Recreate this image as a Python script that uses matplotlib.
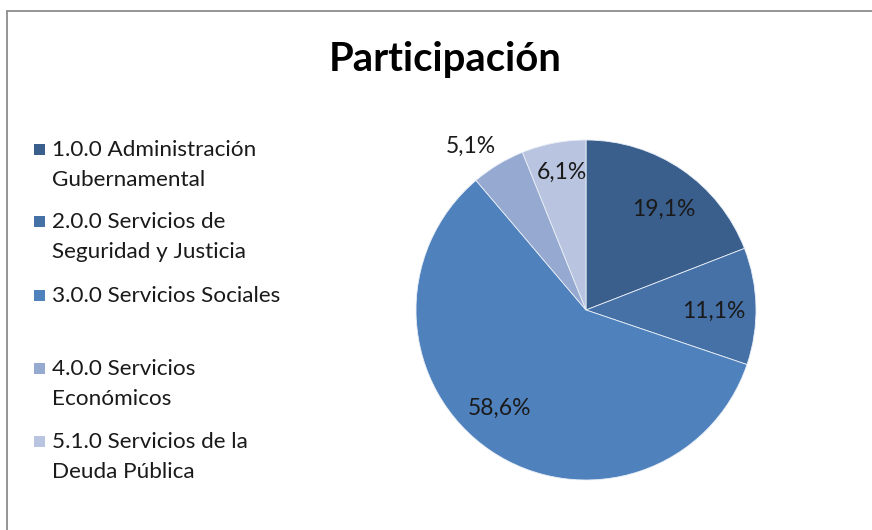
import matplotlib
matplotlib.use("Agg")
import matplotlib.pyplot as plt
from matplotlib.patches import Rectangle

plt.rcParams['font.family'] = ['Lato', 'DejaVu Sans']

title = "Participación"
categories = ["1.0.0 Administración\nGubernamental",
              "2.0.0 Servicios de\nSeguridad y Justicia",
              "3.0.0 Servicios Sociales",
              "4.0.0 Servicios\nEconómicos",
              "5.1.0 Servicios de la\nDeuda Pública"]
values = [19.1, 11.1, 58.6, 5.1, 6.1]
colors = ["#3A5F8D", "#4571A7", "#4F81BD", "#95A9D1", "#B9C5E0"]

W, H = 872, 530
fig = plt.figure(figsize=(W / 100, H / 100), dpi=100)
fig.patch.set_facecolor("white")

# outer chart border
fig.patches.append(Rectangle((7 / W, -0.1), 1.2, (H - 11) / H + 0.1, transform=fig.transFigure,
                             fill=False, edgecolor="#8C8C8C", linewidth=1.3))

fig.text(445 / W, 1 - 59 / H, title, ha="center", va="center", fontsize=28.8,
         fontweight="bold", color="black")

# pie
cx, cy, r = 586, 310, 170
ax = fig.add_axes([(cx - r) / W, (H - cy - r) / H, 2 * r / W, 2 * r / H])
wedges, texts, autotexts = ax.pie(values, colors=colors, startangle=90, counterclock=False,
                                  radius=1, autopct=lambda p: f"{p:.1f}%".replace(".", ","),
                                  pctdistance=0.77,
                                  wedgeprops=dict(edgecolor="#E8EEF6", linewidth=0.6),
                                  textprops=dict(fontsize=16.5, color="#1A1A1A"))
ax.set_xlim(-1, 1)
ax.set_ylim(-1, 1)
ax.set_aspect("equal")
ax.axis("off")
label_pos = [(0.46, 0.59), (0.75, -0.01), (-0.51, -0.58), (-0.68, 0.96), (-0.14, 0.81)]
for t, p in zip(autotexts, label_pos):
    t.set_position(p)

# legend (manual)
y_starts = [149, 221, 295, 368, 441]
for lab, col, y in zip(categories, colors, y_starts):
    fig.patches.append(Rectangle((34 / W, 1 - (y + 6) / H), 11 / W, 11 / H,
                                 transform=fig.transFigure, facecolor=col, edgecolor="none"))
    fig.text(52 / W, 1 - (y - 9) / H, lab, ha="left", va="top", fontsize=16.2,
             color="#1A1A1A", linespacing=1.6)

fig.savefig("out.png", dpi=100)
